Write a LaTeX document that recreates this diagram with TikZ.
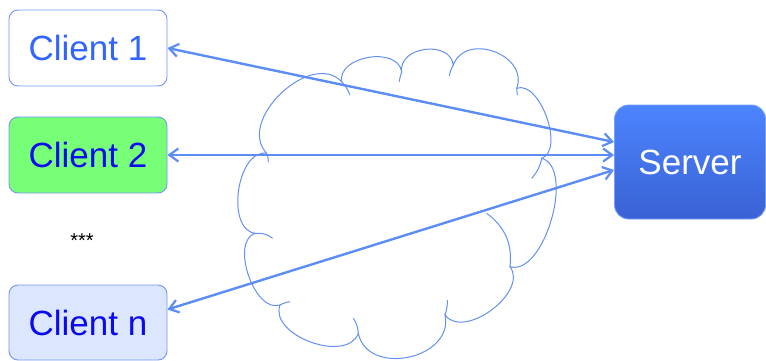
\documentclass[tikz,border=0pt]{standalone}
\usepackage{fontspec}
\setmainfont{Liberation Sans}
\usetikzlibrary{arrows.meta}
\definecolor{lineblue}{RGB}{92,140,245}
\definecolor{boxborder}{RGB}{115,150,240}
\definecolor{cloudblue}{RGB}{100,145,240}
\definecolor{txtlight}{RGB}{50,100,255}
\definecolor{txtdark}{RGB}{10,10,240}
\definecolor{greenfill}{RGB}{119,255,119}
\definecolor{palefill}{RGB}{221,230,255}
\definecolor{srvtop}{RGB}{76,132,255}
\definecolor{srvbot}{RGB}{58,98,212}
\definecolor{srvborder}{RGB}{120,160,250}
\begin{document}
\begin{tikzpicture}[x=1pt,y=-1pt,
  clientbox/.style={draw=boxborder, line width=0.9pt, rounded corners=9pt,
    minimum width=158pt, minimum height=76pt, inner sep=0pt,
    font=\fontsize{35}{40}\selectfont},
  serverbox/.style={draw=srvborder, line width=0.9pt, rounded corners=14pt,
    minimum width=151pt, minimum height=114pt, inner sep=0pt,
    top color=srvtop, bottom color=srvbot, text=white,
    font=\fontsize{35}{40}\selectfont},
  link/.style={lineblue, line width=2.4pt,
    {Straight Barb[length=9pt,width=13pt,line width=2.2pt]}-{Straight Barb[length=9pt,width=13pt,line width=2.2pt]}},
  cloudline/.style={draw=cloudblue, line width=1pt}
]
\useasboundingbox (0,0) rectangle (766,361);

% cloud
\coordinate (J1) at (266.7,153.3);
\coordinate (J2) at (255,233.3);
\coordinate (J3) at (280,305);
\coordinate (J4) at (358.3,333.3);
\coordinate (J5) at (445,315);
\coordinate (J6) at (510,266.7);
\coordinate (J7) at (541.7,158.3);
\coordinate (J8) at (516.7,88.3);
\coordinate (J9) at (453.3,65);
\coordinate (J10) at (401.7,71.7);
\coordinate (J11) at (341.7,81.7);
\draw[cloudline]
  (J1) to[bend right=90,looseness=0.95] (J2)
       to[bend right=90,looseness=0.9] (J3)
       to[bend right=90,looseness=1.0] (J4)
       to[bend right=90,looseness=1.3] (J5)
       to[bend right=90,looseness=1.0] (J6)
       to[bend right=90,looseness=0.8] (J7)
       to[bend right=90,looseness=0.85] (J8)
       to[bend right=90,looseness=1.35] (J9)
       to[bend right=90,looseness=1.25] (J10)
       to[bend right=90,looseness=1.1] (J11)
       to[bend right=90,looseness=1.1] (J1);
\draw[cloudline] (J1) to[bend left=10] (268.3,162);
\draw[cloudline] (J2) to[bend left=20] (272.7,238.3);
\draw[cloudline] (J3) to[bend left=10] (290,301.7);
\draw[cloudline] (J4) to[bend right=15] (353.3,318.3);
\draw[cloudline] (J5) to[bend right=10] (447.3,300);
\draw[cloudline] (J6) to[bend right=30] (486.7,213.3);
\draw[cloudline] (J7) to[bend left=15] (531.7,178.3);
\draw[cloudline] (J8) to[bend left=5] (517.3,95);
\draw[cloudline] (J9) to[bend right=10] (449.3,76);
\draw[cloudline] (J10) to[bend right=5] (399.3,81.7);
\draw[cloudline] (J11) to[bend left=10] (350,95);

% nodes
\node[clientbox, fill=white, text=txtlight] (c1) at (88,48) {Client 1};
\node[clientbox, fill=greenfill, text=txtdark] (c2) at (88,155) {Client 2};
\node[clientbox, fill=palefill, text=txtdark, minimum height=75pt] (cn) at (88,322.5) {Client n};
\node[serverbox] (srv) at (690,162) {Server};
\node[anchor=base, inner sep=0pt, font=\fontsize{20}{24}\selectfont] (dots) at (82,247.5) {***};

% connectors
\draw[link] (c1.east) -- ([yshift=20pt]srv.west);
\draw[link] (c2.east) -- ([yshift=7pt]srv.west);
\draw[link] ([yshift=13pt]cn.east) -- ([yshift=-8pt]srv.west);
\end{tikzpicture}
\end{document}
